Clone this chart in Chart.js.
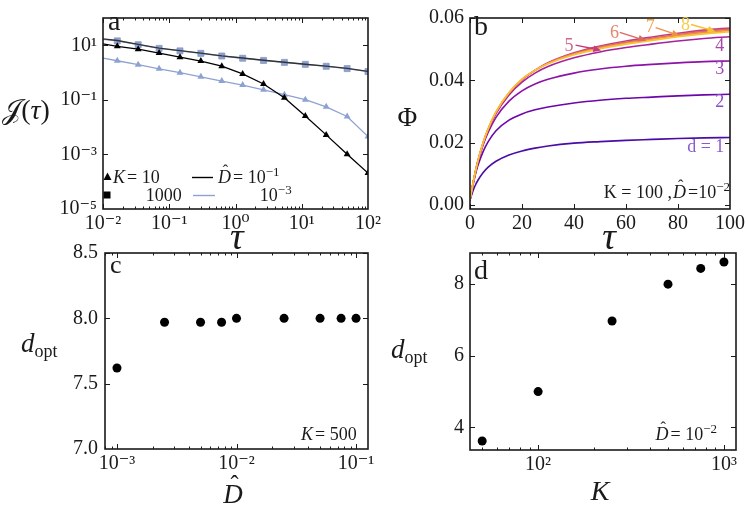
<!DOCTYPE html>
<html><head><meta charset="utf-8">
<script src="https://cdn.jsdelivr.net/npm/chart.js@4"></script>
<style>
html,body{margin:0;padding:0;background:#fff;}
#wrap{position:relative;width:748px;height:507px;overflow:hidden;}
canvas{position:absolute;left:0;top:0;}
</style></head><body>
<div id="wrap">
<canvas id="ca" width="748" height="507"></canvas>
<canvas id="cb" width="748" height="507"></canvas>
<canvas id="cc" width="748" height="507"></canvas>
<canvas id="cd" width="748" height="507"></canvas>
</div>
<script>
// ---------- DATA ----------
// panel a : J(tau)
const tauA = [0.01, 0.01644, 0.03396, 0.07031, 0.1452, 0.2999, 0.6209, 1.282, 2.649, 5.47, 11.32, 23.39, 48.42, 100];
const jK1000D1 = [17.2, 14.9, 10.8, 7.9, 6.35, 5.15, 4.1, 3.4, 2.82, 2.4, 2.03, 1.72, 1.42, 1.11];
const jK1000D3 = [16.6, 14.5, 10.5, 7.7, 6.25, 5.05, 4.05, 3.35, 2.78, 2.36, 2.0, 1.70, 1.40, 1.09];
const jK10D1 = [11.2, 9.2, 7.2, 5.2, 3.66, 2.64, 1.71, 0.89, 0.38, 0.119, 0.0258, 0.0052, 0.00102, 0.000208];
const jK10D3 = [3.4, 2.71, 1.95, 1.37, 0.99, 0.70, 0.487, 0.35, 0.234, 0.155, 0.101, 0.0556, 0.0245, 0.00453];
const ticksAx = [0.01, 0.1, 1, 10, 100];
const ticksAy = [1e-5, 1e-3, 1e-1, 10];

// panel b : Phi(tau) for d = 1..8
const tauB = [0, 1, 2, 3, 5, 7, 10, 15, 20, 25, 30, 40, 50, 60, 70, 80, 90, 100];
const phiD1 = [0.0015,0.0041,0.0062,0.0078,0.0103,0.0121,0.0140,0.0160,0.0173,0.0182,0.0189,0.0198,0.0203,0.0207,0.0210,0.0213,0.0215,0.0216];
const phiD2 = [0.0015,0.0058,0.0095,0.0125,0.0170,0.0203,0.0238,0.0272,0.0292,0.0305,0.0314,0.0327,0.0336,0.0342,0.0346,0.0350,0.0353,0.0355];
const phiD3 = [0.0015,0.0061,0.0101,0.0136,0.0191,0.0233,0.0281,0.0333,0.0366,0.0388,0.0403,0.0423,0.0436,0.0445,0.0451,0.0456,0.0460,0.0462];
const phiD4 = [0.0015,0.0062,0.0103,0.0139,0.0196,0.0241,0.0293,0.0353,0.0394,0.0423,0.0444,0.0472,0.0491,0.0505,0.0516,0.0526,0.0534,0.0540];
const phiD5 = [0.0015,0.0062,0.0103,0.0139,0.0197,0.0243,0.0296,0.0358,0.0401,0.0432,0.0456,0.0488,0.0510,0.0526,0.0539,0.0551,0.0561,0.0568];
const phiD6 = [0.0015,0.0062,0.0103,0.0139,0.0197,0.0243,0.0297,0.0359,0.0402,0.0432,0.0455,0.0486,0.0507,0.0522,0.0535,0.0547,0.0557,0.0564];
const phiD7 = [0.0015,0.0062,0.0103,0.0140,0.0198,0.0244,0.0298,0.0360,0.0403,0.0432,0.0454,0.0484,0.0504,0.0519,0.0532,0.0544,0.0553,0.0560];
const phiD8 = [0.0015,0.0062,0.0104,0.0140,0.0199,0.0245,0.0299,0.0361,0.0404,0.0432,0.0453,0.0482,0.0501,0.0516,0.0528,0.0540,0.0549,0.0556];
const ticksBx = [0, 20, 40, 60, 80, 100];
const ticksBy = [0, 0.02, 0.04, 0.06];

// panel c : d_opt vs D-hat (K = 500)
const dHat = [0.001, 0.0025, 0.005, 0.0075, 0.01, 0.025, 0.05, 0.075, 0.1];
const doptC = [7.62, 7.97, 7.97, 7.97, 8.0, 8.0, 8.0, 8.0, 8.0];
const ticksCx = [0.001, 0.01, 0.1];
const ticksCy = [7.0, 7.5, 8.0, 8.5];

// panel d : d_opt vs K (D-hat = 1e-2)
const Kvals = [50, 100, 250, 500, 750, 1000];
const doptD = [3.62, 5.0, 6.97, 8.0, 8.44, 8.62];
const ticksDx = [100, 1000];
const ticksDy = [4, 6, 8];

// ---------- helpers ----------
const SERIF = '"Liberation Serif", "DejaVu Serif", serif';
const INK = '#1a1a1a';
const TICK_SZ = 20;
Chart.defaults.font.family = SERIF;
Chart.defaults.color = INK;
const zip = (xs, ys) => xs.map((x, i) => ({x, y: ys[i]}));
const SUP = {'-':'⁻','0':'⁰','1':'¹','2':'²','3':'³','4':'⁴','5':'⁵','6':'⁶','7':'⁷','8':'⁸','9':'⁹'};
const pow10 = v => '10' + String(Math.round(Math.log10(v))).split('').map(c => SUP[c]).join('');
function minorLog(lo, hi) { const out = []; for (let e = lo; e <= hi; e++) for (let m = 2; m <= 9; m++) out.push(m * Math.pow(10, e)); return out; }

function font(sz, it) { return (it ? 'italic ' : '') + sz + 'px ' + SERIF; }
function rich(ctx, segs, x, y, align, color) {
  ctx.save();
  ctx.fillStyle = color || INK; ctx.textBaseline = 'alphabetic'; ctx.textAlign = 'left';
  let w = 0; const ws = segs.map(s => { ctx.font = font(s.sz, s.it); const m = ctx.measureText(s.t).width + (s.gap || 0); w += m; return m; });
  let cx = align === 'right' ? x - w : align === 'center' ? x - w / 2 : x;
  segs.forEach((s, i) => { ctx.font = font(s.sz, s.it); ctx.fillText(s.t, cx, y + (s.dy || 0)); if (s.hat) drawHat(ctx, cx, y, s.sz); cx += ws[i]; });
  ctx.restore();
}
function drawHat(ctx, x, y, sz) {
  ctx.save(); ctx.font = font(sz * 0.9, false); ctx.textAlign = 'center';
  ctx.fillText('ˆ', x + sz * 0.42, y - sz * 0.38); ctx.restore();
}
function arrow(ctx, x1, y1, x2, y2, color) {
  const a = Math.atan2(y2 - y1, x2 - x1), L = 8, H = 3.4;
  ctx.save(); ctx.strokeStyle = color; ctx.fillStyle = color; ctx.lineWidth = 1.4;
  ctx.beginPath(); ctx.moveTo(x1, y1); ctx.lineTo(x2 - L * Math.cos(a), y2 - L * Math.sin(a)); ctx.stroke();
  ctx.beginPath(); ctx.moveTo(x2, y2);
  ctx.lineTo(x2 - L * Math.cos(a) + H * Math.sin(a), y2 - L * Math.sin(a) - H * Math.cos(a));
  ctx.lineTo(x2 - L * Math.cos(a) - H * Math.sin(a), y2 - L * Math.sin(a) + H * Math.cos(a));
  ctx.closePath(); ctx.fill(); ctx.restore();
}

function framePlugin(fr) {
  return { id: 'frame', afterDatasetsDraw(chart) {
    const {ctx, chartArea: a, scales: {x, y}} = chart;
    ctx.save(); ctx.strokeStyle = INK; ctx.lineWidth = 1;
    const ln = (x1, y1, x2, y2) => { ctx.beginPath(); ctx.moveTo(x1, y1); ctx.lineTo(x2, y2); ctx.stroke(); };
    const tx = (vals, len) => vals.forEach(v => { const p = Math.round(x.getPixelForValue(v)) + 0.5; if (p < a.left || p > a.right) return; ln(p, a.bottom, p, a.bottom - len); ln(p, a.top, p, a.top + len); });
    const ty = (vals, len) => vals.forEach(v => { const p = Math.round(y.getPixelForValue(v)) + 0.5; if (p < a.top || p > a.bottom) return; ln(a.left, p, a.left + len, p); ln(a.right, p, a.right - len, p); });
    tx(fr.xMajor || [], 5); tx(fr.xMinor || [], 2.5); ty(fr.yMajor || [], 5); ty(fr.yMinor || [], 2.5);
    ctx.lineWidth = 1.6; ctx.strokeRect(a.left, a.top, a.right - a.left, a.bottom - a.top);
    ctx.restore();
  }};
}

function axis(type, min, max, vals, fmt, pad) {
  return { type, min, max,
    afterBuildTicks: s => { s.ticks = vals.map(v => ({value: v})); },
    ticks: { callback: v => fmt(v), font: {family: SERIF, size: TICK_SZ}, color: INK, padding: pad, maxRotation: 0, autoSkip: false },
    grid: { display: false, drawTicks: false }, border: { display: false } };
}

function makeChart(id, area, xs, ys, datasets, fr, annot) {
  const yW = 60, xH = 40;
  xs.afterFit = s => { s.height = xH; };
  ys.afterFit = s => { s.width = yW; };
  return new Chart(document.getElementById(id), {
    type: 'scatter',
    data: { datasets },
    options: {
      responsive: false, animation: false, devicePixelRatio: 1,
      layout: { autoPadding: false, padding: { left: area.l - yW, right: 748 - area.r, top: area.t, bottom: 507 - area.b - xH } },
      plugins: { legend: {display: false}, tooltip: {enabled: false} },
      scales: { x: xs, y: ys }
    },
    plugins: [framePlugin(fr), { id: 'annot', afterDraw: annot }]
  });
}

// ---------- panel a ----------
const BLUE = '#8ea2d2';
const radA = tauA.map((t, i) => i === 0 ? 0 : 4);
makeChart('ca', {l: 103, r: 368, t: 13, b: 209},
  axis('logarithmic', 0.01, 100, ticksAx, pow10, 3),
  axis('logarithmic', 1e-5, 100, ticksAy, pow10, 6),
  [
    { data: zip(tauA, jK1000D1), showLine: true, borderColor: '#333', borderWidth: 1.4, pointRadius: 0, order: 1 },
    { data: zip(tauA, jK10D1), showLine: true, borderColor: '#000', borderWidth: 1.3, pointStyle: 'triangle', pointRadius: radA, pointBackgroundColor: '#000', pointBorderWidth: 0, order: 2 },
    { data: zip(tauA, jK10D3), showLine: true, borderColor: BLUE, borderWidth: 1.3, pointStyle: 'triangle', pointRadius: radA, pointBackgroundColor: BLUE, pointBorderWidth: 0, order: 3 },
    { data: zip(tauA, jK1000D3), showLine: true, borderColor: BLUE, borderWidth: 1.3, pointStyle: 'rect', pointRadius: radA.map(r => r ? 4.3 : 0), pointBackgroundColor: BLUE, pointBorderColor: '#7a8cb8', pointBorderWidth: 0.6, order: 4 }
  ],
  { xMajor: ticksAx, xMinor: minorLog(-2, 1), yMajor: ticksAy },
  chart => {
    const ctx = chart.ctx;
    rich(ctx, [{t: 'a', sz: 28}], 108, 29.5);
    rich(ctx, [{t: 'τ', sz: 38, it: true}], 236.7, 249, 'center');
    rich(ctx, [{t: '𝒥', sz: 28}, {t: '(', sz: 28}, {t: 'τ', sz: 28, it: true}, {t: ')', sz: 28}], 26, 119, 'center');
    // legend
    ctx.save(); ctx.fillStyle = '#000';
    ctx.beginPath(); ctx.moveTo(107.5, 172.5); ctx.lineTo(111.5, 180); ctx.lineTo(103.5, 180); ctx.closePath(); ctx.fill();
    ctx.fillRect(103.5, 191.5, 7, 7);
    ctx.lineWidth = 1.4; ctx.strokeStyle = '#000';
    ctx.beginPath(); ctx.moveTo(192, 177.5); ctx.lineTo(213, 177.5); ctx.stroke();
    ctx.strokeStyle = BLUE; ctx.beginPath(); ctx.moveTo(193, 195.5); ctx.lineTo(215, 195.5); ctx.stroke();
    ctx.restore();
    rich(ctx, [{t: 'K', sz: 18, it: true, gap: 2}, {t: '= 10', sz: 18}], 113, 183);
    rich(ctx, [{t: 'D', sz: 18, it: true, hat: true, gap: 2}, {t: '= 10', sz: 18}, {t: '−1', sz: 13, dy: -7}], 218, 183);
    rich(ctx, [{t: '1000', sz: 18}], 181.7, 201, 'right');
    rich(ctx, [{t: '10', sz: 18}, {t: '−3', sz: 13, dy: -7}], 291.7, 201, 'right');
  });

// ---------- panel b ----------
const curveCols = ['#4a0ca6', '#6c06ab', '#8c12a8', '#a5229a', '#c23d7c', '#dc6764', '#ef8f45', '#f8c233'];
const labCols = ['#8a5ad0', '#8c4cc8', '#9a44bc', '#a846ac', '#d4668c', '#e6856c', '#f0a048', '#f5cb48'];
const phis = [phiD1, phiD2, phiD3, phiD4, phiD5, phiD6, phiD7, phiD8];
makeChart('cb', {l: 470, r: 733, t: 13, b: 209},
  axis('linear', 0, 100, ticksBx, v => String(v), 3),
  axis('linear', -0.00135, 0.06, ticksBy, v => v.toFixed(2), 6),
  phis.map((p, i) => ({ data: zip(tauB, p), showLine: true, borderColor: curveCols[i], borderWidth: 1.6, pointRadius: 0, cubicInterpolationMode: 'monotone', order: 8 - i })),
  { xMajor: ticksBx, yMajor: ticksBy },
  chart => {
    const ctx = chart.ctx, X = chart.scales.x, Y = chart.scales.y;
    const px = v => X.getPixelForValue(v), py = v => Y.getPixelForValue(v);
    rich(ctx, [{t: 'b', sz: 28}], 474, 35);
    rich(ctx, [{t: 'Φ', sz: 27}], 407.3, 126, 'center');
    rich(ctx, [{t: 'τ', sz: 38, it: true}], 609, 249, 'center');
    rich(ctx, [{t: '4', sz: 18}], px(97.8), py(0.0494), 'right', labCols[3]);
    rich(ctx, [{t: '3', sz: 18}], px(97.8), py(0.0419), 'right', labCols[2]);
    rich(ctx, [{t: '2', sz: 18}], px(97.8), py(0.0314), 'right', labCols[1]);
    rich(ctx, [{t: 'd = 1', sz: 18}], px(97.8), py(0.0169), 'right', labCols[0]);
    const arr = [
      {d: 5, lab: [38.1, 0.0512], tail: [40.6, 0.0513], tip: [50.5, 0.0496]},
      {d: 6, lab: [55.6, 0.0556], tail: [57.6, 0.0554], tip: [67.8, 0.0527]},
      {d: 7, lab: [69.3, 0.0574], tail: [71.4, 0.0569], tip: [80.7, 0.0543]},
      {d: 8, lab: [82.9, 0.0580], tail: [85.0, 0.0579], tip: [94.5, 0.0557]}
    ];
    arr.forEach(a => {
      rich(ctx, [{t: String(a.d), sz: 18}], px(a.lab[0]), py(a.lab[1]) + 6, 'center', labCols[a.d - 1]);
      arrow(ctx, px(a.tail[0]), py(a.tail[1]), px(a.tip[0]), py(a.tip[1]), curveCols[a.d - 1]);
    });
    rich(ctx, [{t: 'K = 100 ,', sz: 18, gap: 1}, {t: 'D', sz: 18, it: true, hat: true, gap: 2}, {t: '=10', sz: 18}, {t: '−2', sz: 13, dy: -7}], 730, 198, 'right');
  });

// ---------- panel c ----------
makeChart('cc', {l: 105, r: 368, t: 253, b: 449},
  axis('logarithmic', 7.94e-4, 0.1259, ticksCx, pow10, 3),
  axis('linear', 7.0, 8.5, ticksCy, v => v.toFixed(1), 7),
  [{ data: zip(dHat, doptC), pointStyle: 'circle', pointRadius: 4.5, pointBackgroundColor: '#000', pointBorderWidth: 0 }],
  { xMajor: ticksCx, xMinor: minorLog(-4, -2), yMajor: ticksCy },
  chart => {
    const ctx = chart.ctx;
    rich(ctx, [{t: 'c', sz: 26}], 110, 273);
    rich(ctx, [{t: 'K', sz: 18, it: true, gap: 2}, {t: '= 500', sz: 18}], 356.7, 439.5, 'right');
    rich(ctx, [{t: 'd', sz: 27, it: true}, {t: 'opt', sz: 18, dy: 5}], 21, 352);
    rich(ctx, [{t: 'D', sz: 27, it: true, hat: true}], 233, 503, 'center');
  });

// ---------- panel d ----------
makeChart('cd', {l: 470, r: 736, t: 253, b: 450},
  axis('logarithmic', 43.0, 1161, ticksDx, pow10, 3),
  axis('linear', 3.37, 8.87, ticksDy, v => String(v), 6),
  [{ data: zip(Kvals, doptD), pointStyle: 'circle', pointRadius: 4.5, pointBackgroundColor: '#000', pointBorderWidth: 0 }],
  { xMajor: ticksDx, xMinor: minorLog(1, 2), yMajor: ticksDy },
  chart => {
    const ctx = chart.ctx;
    rich(ctx, [{t: 'd', sz: 28}], 474, 279);
    rich(ctx, [{t: 'D', sz: 18, it: true, hat: true, gap: 2}, {t: '= 10', sz: 18}, {t: '−2', sz: 13, dy: -7}], 717, 439.5, 'right');
    rich(ctx, [{t: 'd', sz: 27, it: true}, {t: 'opt', sz: 18, dy: 5}], 391, 358);
    rich(ctx, [{t: 'K', sz: 28, it: true}], 600, 500, 'center');
  });
</script>
</body></html>
